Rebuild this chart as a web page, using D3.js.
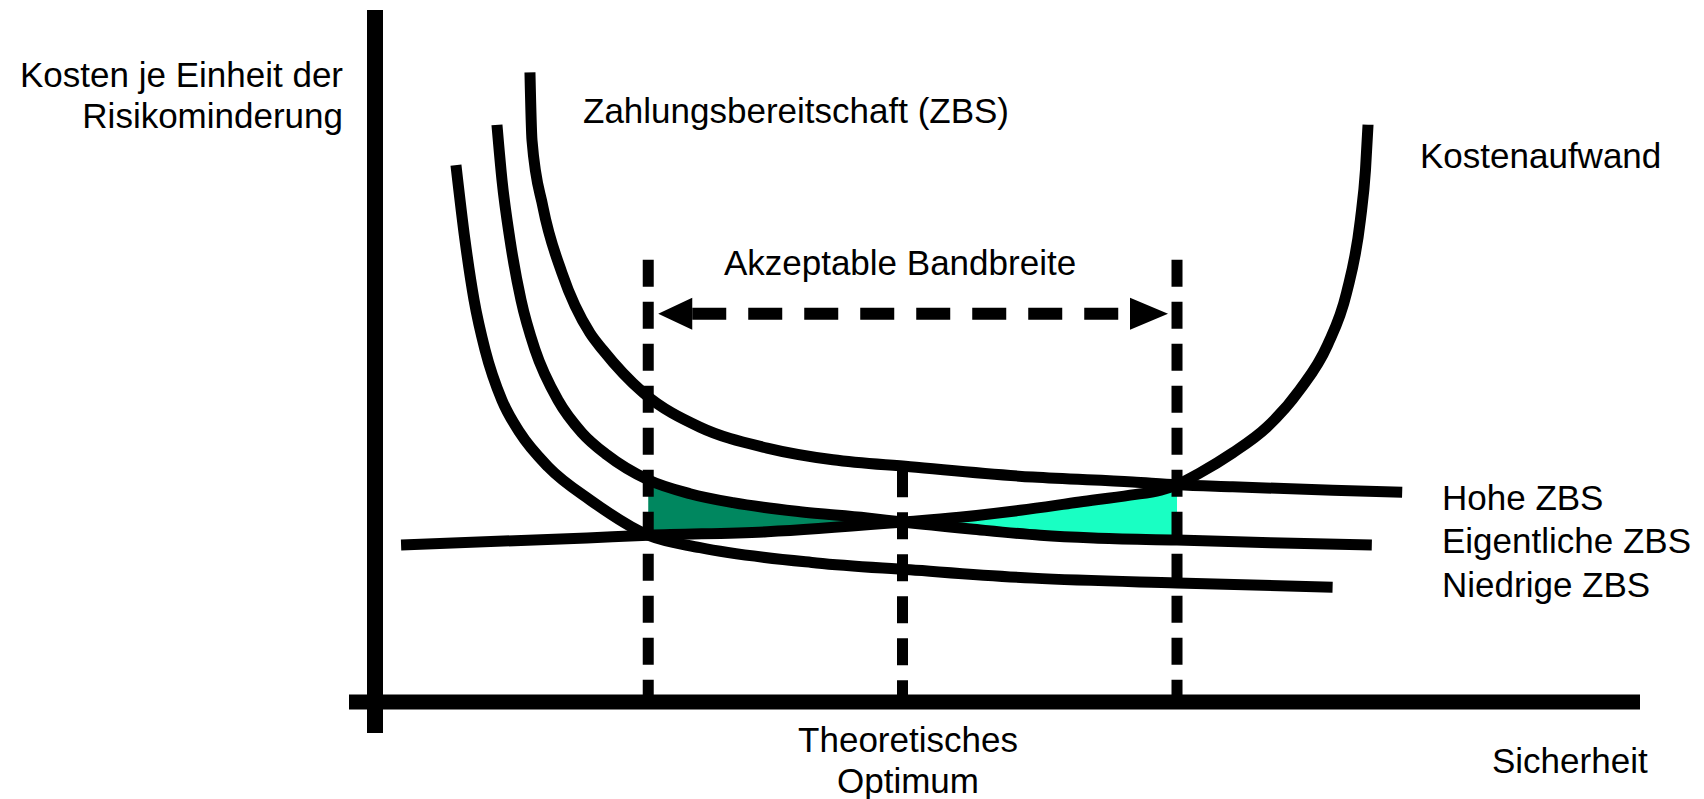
<!DOCTYPE html>
<html>
<head>
<meta charset="utf-8">
<script src="https://cdn.jsdelivr.net/npm/d3@7"></script>
<style>
  body { margin: 0; background: #fff; }
  svg { display: block; }
  text { font-family: "Liberation Sans", Arial, sans-serif; font-size: 35px; fill: #000; }
</style>
</head>
<body>
<svg id="chart" width="1704" height="799"></svg>
<script>
// Zahlungsbereitschaft (ZBS) curves and cost curve, in chart units (0..100)
var hoheZBS = [[12.25,91.0],[12.41,81.2],[13.28,71.5],[14.78,62.0],[17.0,53.3],[18.0,50.9],
  [21.2,44.7],[25.7,39.7],[31.0,36.7],[36.2,35.0],[42.3,34.0],[52.0,32.5],[59.9,31.8],[63.4,31.4],
  [67.8,31.1],[75.7,30.6],[81.2,30.3]];
var eigentlicheZBS = [[9.64,83.4],[10.04,75.4],[10.67,66.8],[11.54,58.1],[12.65,50.9],[14.47,43.6],
  [16.36,38.9],[18.34,35.7],[21.6,32.1],[24.9,30.1],[28.3,28.8],[33.6,27.5],[38.9,26.6],[41.7,26.0],
  [47.1,25.0],[52.6,24.1],[56.8,23.7],[63.4,23.4],[70.8,23.0],[78.8,22.7]];
var niedrigeZBS = [[6.40,77.6],[7.11,66.8],[7.83,58.1],[8.70,50.9],[10.04,43.6],[11.46,38.9],
  [13.68,34.0],[17.0,29.2],[21.6,24.1],[25.7,22.3],[34.9,20.1],[42.3,19.1],[52.0,17.9],[63.4,17.2],
  [75.7,16.6]];
var kostenaufwand = [[2.06,22.7],[16.76,23.7],[21.6,24.1],[31.0,24.6],[41.7,26.0],[46.2,26.7],
  [51.0,27.7],[55.7,28.9],[59.7,29.9],[62.1,30.6],[63.4,31.4],[65.2,33.1],[67.8,36.0],[70.5,39.7],
  [73.1,45.1],[75.3,51.6],[76.8,59.1],[77.9,69.7],[78.3,76.9],[78.5,83.4]];

// acceptable band: lower bound, theoretical optimum, upper bound
var bandX = [21.6, 41.7, 63.4];
var bandTop = [63.9, 33.5, 63.9];
var arrowY = 56.1;

var curveLabels = ["Hohe ZBS", "Eigentliche ZBS", "Niedrige ZBS"];
var yLabel = ["Kosten je Einheit der", "Risikominderung"];
var optLabel = ["Theoretisches", "Optimum"];

var svg = d3.select("#chart");

var x = d3.scaleLinear().domain([0, 100]).range([375, 1640]);
var y = d3.scaleLinear().domain([0, 100]).range([702, 10]);

var line = d3.line()
    .x(function(d){ return x(d[0]); })
    .y(function(d){ return y(d[1]); })
    .curve(d3.curveMonotoneX);

function between(pts, a, b) {
  return pts.filter(function(d){ return d[0] >= a - 0.01 && d[0] <= b + 0.01; });
}
function band(upper, lower, a, b) {
  var p1 = line(between(upper, a, b));
  var lo = between(lower, a, b).map(function(d){ return [-d[0], d[1]]; }).reverse();
  // draw the lower edge backwards using a mirrored x so monotoneX still applies
  var back = d3.line()
      .x(function(d){ return x(-d[0]); })
      .y(function(d){ return y(d[1]); })
      .curve(d3.curveLinear)(lo);
  return p1 + back.replace(/^M/, "L") + "Z";
}

// shaded gaps between willingness to pay and cost
svg.append("path")
   .attr("d", band(eigentlicheZBS, kostenaufwand, bandX[0], bandX[1]))
   .attr("fill", "#00875f");
svg.append("path")
   .attr("d", band(kostenaufwand, eigentlicheZBS, bandX[1], bandX[2]))
   .attr("fill", "#19ffc3");

// dashed verticals
svg.selectAll(".vline")
   .data(bandX)
   .enter()
   .append("line")
   .attr("x1", function(d){ return x(d); })
   .attr("x2", function(d){ return x(d); })
   .attr("y1", function(d, i){ return y(bandTop[i]); })
   .attr("y2", y(0))
   .attr("stroke", "#000")
   .attr("stroke-width", 11)
   .attr("stroke-dasharray", "27,15");

// curves
[hoheZBS, eigentlicheZBS, niedrigeZBS, kostenaufwand].forEach(function(c){
  svg.append("path")
     .attr("d", line(c))
     .attr("fill", "none")
     .attr("stroke", "#000")
     .attr("stroke-width", 11);
});

// axes
svg.append("line")
   .attr("x1", x(0)).attr("x2", x(0))
   .attr("y1", y(100)).attr("y2", y(0) + 31)
   .attr("stroke", "#000").attr("stroke-width", 16);
svg.append("line")
   .attr("x1", x(0) - 26).attr("x2", x(100))
   .attr("y1", y(0)).attr("y2", y(0))
   .attr("stroke", "#000").attr("stroke-width", 15);

// double arrow "Akzeptable Bandbreite"
var ay = y(arrowY);
var left = x(bandX[0]) + 10, right = x(bandX[2]) - 9;
svg.append("line")
   .attr("x1", left + 34).attr("x2", right - 38)
   .attr("y1", ay).attr("y2", ay)
   .attr("stroke", "#000").attr("stroke-width", 12)
   .attr("stroke-dasharray", "34,22");
svg.append("path")
   .attr("d", "M" + left + "," + ay + "L" + (left + 34) + "," + (ay - 16) + "L" + (left + 34) + "," + (ay + 16) + "Z")
   .attr("fill", "#000");
svg.append("path")
   .attr("d", "M" + right + "," + ay + "L" + (right - 38) + "," + (ay - 16) + "L" + (right - 38) + "," + (ay + 16) + "Z")
   .attr("fill", "#000");

// texts
svg.selectAll(".ylab")
   .data(yLabel)
   .enter()
   .append("text")
   .attr("x", 343)
   .attr("y", function(d, i){ return 87 + i * 41; })
   .attr("text-anchor", "end")
   .text(function(d){ return d; });

svg.append("text").attr("x", 583).attr("y", 123).text("Zahlungsbereitschaft (ZBS)");
svg.append("text").attr("x", 1420).attr("y", 168).text("Kostenaufwand");
svg.append("text").attr("x", 900).attr("y", 275).attr("text-anchor", "middle").text("Akzeptable Bandbreite");

svg.selectAll(".clab")
   .data(curveLabels)
   .enter()
   .append("text")
   .attr("x", 1442)
   .attr("y", function(d, i){ return [510, 553, 597][i]; })
   .text(function(d){ return d; });

svg.selectAll(".olab")
   .data(optLabel)
   .enter()
   .append("text")
   .attr("x", 908)
   .attr("y", function(d, i){ return 752 + i * 41; })
   .attr("text-anchor", "middle")
   .text(function(d){ return d; });

svg.append("text").attr("x", 1492).attr("y", 773).text("Sicherheit");
</script>
</body>
</html>
